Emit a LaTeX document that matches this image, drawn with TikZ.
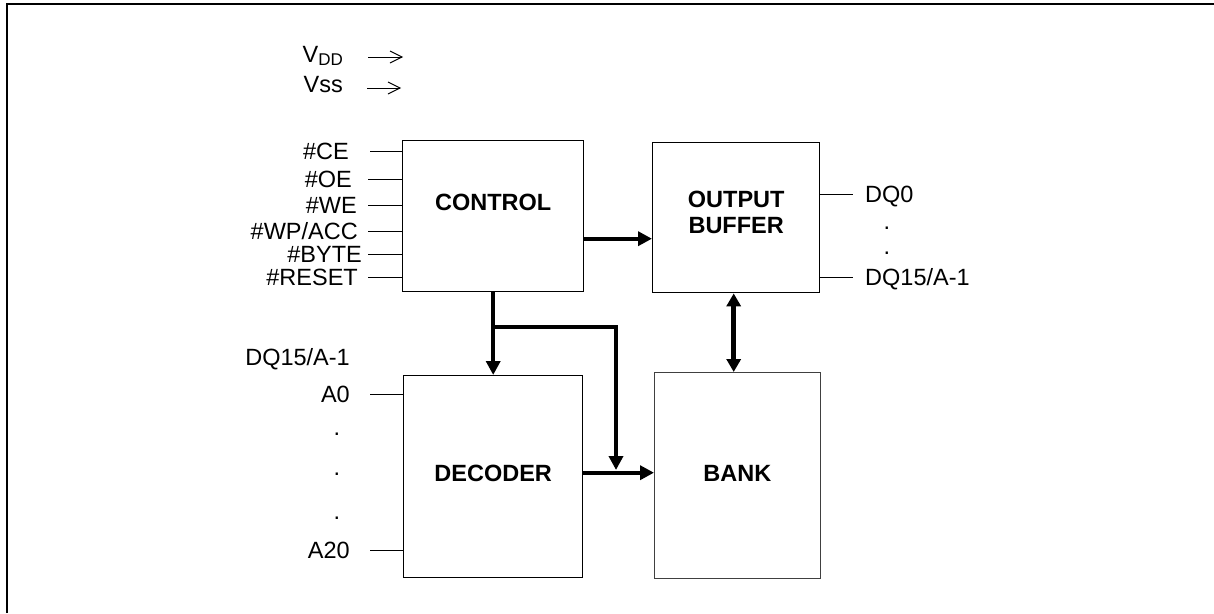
\documentclass[tikz,border=0pt]{standalone}
\usepackage{fontspec}
\setmainfont{Liberation Sans}
\usetikzlibrary{arrows.meta, positioning}

\begin{document}
\begin{tikzpicture}[
  x=1pt, y=-1pt,
  block/.style={draw, line width=1.4pt, inner sep=0pt, anchor=north west},
  blocktext/.style={font=\fontsize{23.5}{26}\selectfont\bfseries, align=center},
  sigtext/.style={font=\fontsize{23.5}{26}\selectfont, inner sep=0pt,
                  text height=16.8pt, text depth=0pt},
  dotmark/.style={font=\fontsize{23.5}{26}\selectfont, inner sep=0pt, anchor=base},
  sigline/.style={line width=0.9pt},
  supply/.style={line width=0.9pt, -{Straight Barb[length=12pt, width=12pt]}},
  bus/.style={line width=4pt, -{Triangle[length=14pt, width=14pt]}},
]

\useasboundingbox (0,0) rectangle (1214,613);
\draw[line width=2pt] (7,613) -- (7,4) -- (1214,4);

% supplies
\node[sigtext, anchor=base east, text height=, text depth=] (vdd) at (343,62)
  {V\raisebox{-3pt}{\fontsize{17}{20}\selectfont DD}};
\node[sigtext, anchor=base east, text height=, text depth=] (vss) at (343,92) {Vss};
\coordinate (vdd in)  at (368,57);
\coordinate (vdd tip) at (403,57);
\coordinate (vss in)  at (367,88);
\coordinate (vss tip) at (401,88);
\draw[supply] (vdd in) -- (vdd tip);
\draw[supply] (vss in) -- (vss tip);

% blocks
\node[block, minimum width=181, minimum height=151,
      label={[blocktext, yshift=14pt]center:CONTROL}] (ctrl) at (402,140) {};
\node[block, minimum width=167, minimum height=150,
      label={[blocktext, yshift=5pt]center:OUTPUT\\BUFFER}] (obuf) at (652,142) {};
\node[block, minimum width=179, minimum height=202,
      label={[blocktext, yshift=3pt]center:DECODER}] (dec) at (403,375) {};
\node[block, line width=0.8pt, draw=black!75, minimum width=166, minimum height=206,
      label={[blocktext, yshift=2pt]center:BANK}] (bank) at (654,372) {};

% control inputs
\node[sigtext, anchor=east] (ce)    at (349,151) {\#CE};
\node[sigtext, anchor=east] (oe)    at (352,179) {\#OE};
\node[sigtext, anchor=east] (we)    at (357,205) {\#WE};
\node[sigtext, anchor=east] (wp)    at (358,231) {\#WP/ACC};
\node[sigtext, anchor=east] (byte)  at (362,254) {\#BYTE};
\node[sigtext, anchor=east] (reset) at (358,277) {\#RESET};

\draw[sigline] ([xshift=21pt]ce.east)    -- (ce -| ctrl.west);
\draw[sigline] ([xshift=16pt]oe.east)    -- (oe -| ctrl.west);
\draw[sigline] ([xshift=11pt]we.east)    -- (we -| ctrl.west);
\draw[sigline] ([xshift=10pt]wp.east)    -- (wp -| ctrl.west);
\draw[sigline] ([xshift=6pt]byte.east)   -- (byte -| ctrl.west);
\draw[sigline] ([xshift=10pt]reset.east) -- (reset -| ctrl.west);

% data outputs
\node[sigtext, anchor=west] (dq0)  at (865,194) {DQ0};
\node[sigtext, anchor=west] (dq15) at (865,277) {DQ15/A-1};
\node[dotmark] (dqdot1) at (887,229) {.};
\node[dotmark] (dqdot2) at (887,254) {.};
\draw[sigline] (dq0 -| obuf.east)  -- ([xshift=-12pt]dq0.west);
\draw[sigline] (dq15 -| obuf.east) -- ([xshift=-12pt]dq15.west);

% address inputs
\node[sigtext, anchor=east] (dqa) at (350,357) {DQ15/A-1};
\node[sigtext, anchor=east] (a0)  at (350,394) {A0};
\node[sigtext, anchor=east] (a20) at (350,550) {A20};
\node[dotmark] (adot1) at (337,435) {.};
\node[dotmark] (adot2) at (337,475) {.};
\node[dotmark] (adot3) at (337,519) {.};
\draw[sigline] ([xshift=20pt]a0.east)  -- (a0 -| dec.west);
\draw[sigline] ([xshift=20pt]a20.east) -- (a20 -| dec.west);

% buses
\coordinate (fork) at (492.5,327);
\coordinate (join) at (616,470);
\draw[bus] ([yshift=-22.5pt]ctrl.east) -- ([yshift=-22.5pt]ctrl.east -| obuf.west);
\draw[bus, line width=3.5pt] (ctrl.south) -- (dec.north);
\draw[bus] ([yshift=4pt]dec.east) -- ([yshift=4pt]dec.east -| bank.west);
\draw[bus, line width=3.5pt] (fork) -| (join);
\draw[bus, line width=5pt, {Triangle[length=13pt, width=14pt]}-{Triangle[length=13pt, width=14pt]}]
  ([xshift=-2.5pt]obuf.south) -- ([xshift=-2.5pt]obuf.south |- bank.north);

\end{tikzpicture}
\end{document}
